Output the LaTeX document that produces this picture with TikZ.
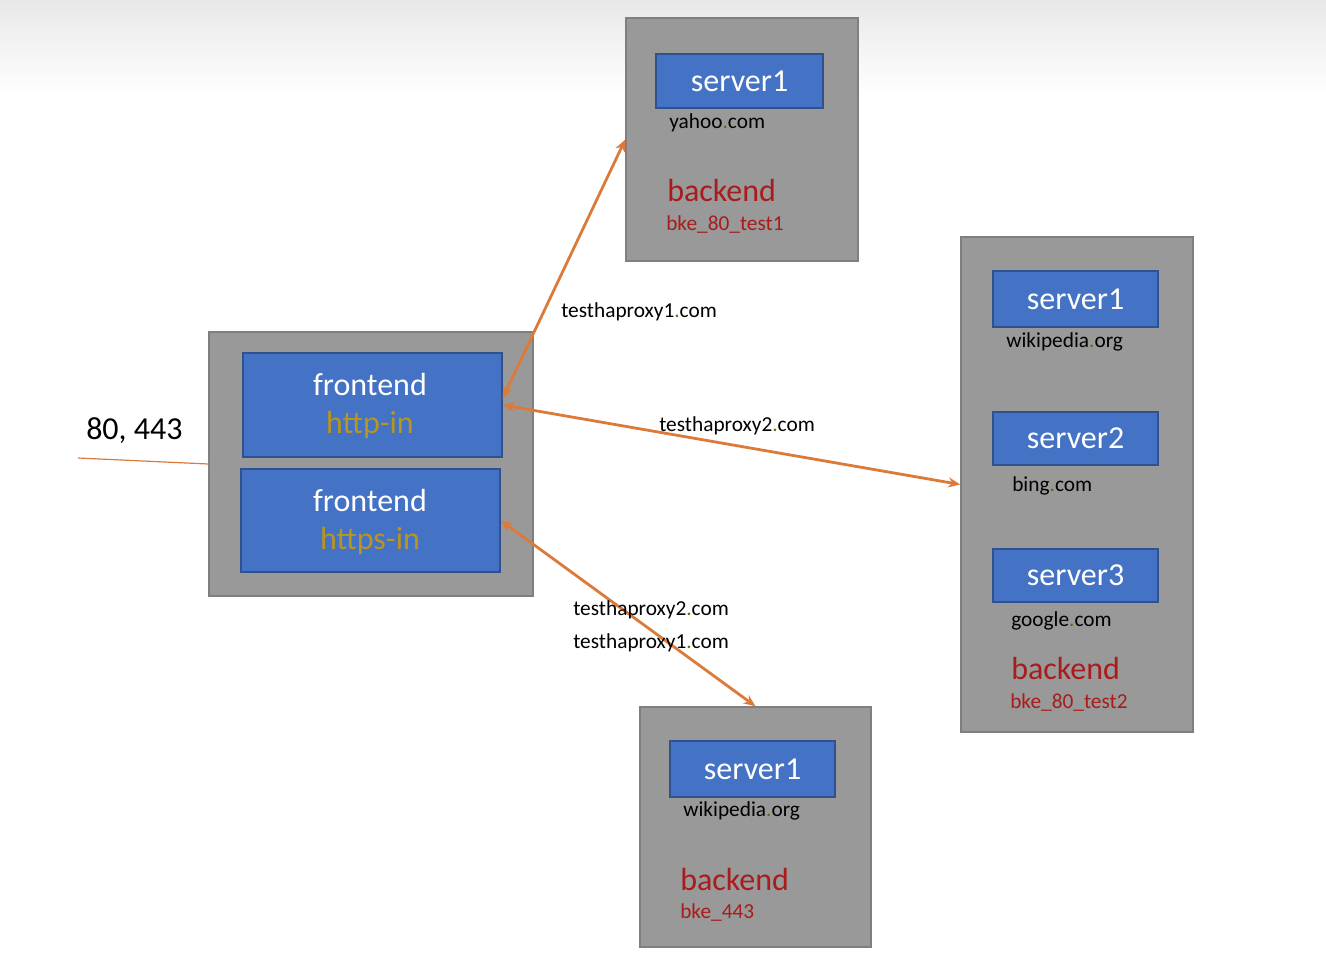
\documentclass[tikz,border=0pt]{standalone}
\usepackage{fontspec}
\setmainfont{Carlito}
\usetikzlibrary{fit,arrows.meta}
\definecolor{boxgray}{HTML}{999999}
\definecolor{boxedge}{HTML}{7F7F7F}
\definecolor{srvblue}{HTML}{4472C4}
\definecolor{srvedge}{HTML}{2F528F}
\definecolor{arrc}{HTML}{DC7A3A}
\definecolor{redtxt}{HTML}{A81C1C}
\definecolor{goldtxt}{HTML}{B8961E}
\definecolor{dotc}{HTML}{5E6B12}
\newcommand{\dt}{{\color{dotc}.}}
\begin{document}
\begin{tikzpicture}[x=0.75pt,y=-0.75pt,
  graybox/.style={draw=boxedge, fill=boxgray, line width=1.1pt, inner sep=0pt},
  srvbox/.style={draw=srvedge, fill=srvblue, line width=1pt, inner sep=0pt},
  srvtxt/.style={text=white, inner sep=0pt, font=\fontsize{24}{28}\selectfont},
  fetxt/.style={anchor=base, inner sep=0pt, font=\fontsize{24}{28}\selectfont},
  dom/.style={anchor=base west, inner sep=0pt, font=\fontsize{16}{19}\selectfont},
  bk/.style={anchor=base west, inner sep=0pt, text=redtxt, font=\fontsize{24}{28}\selectfont},
  bkid/.style={anchor=base west, inner sep=0pt, text=redtxt, font=\fontsize{16}{19}\selectfont},
  conn/.style={draw=arrc, line width=2.1pt, {Stealth[length=9pt,width=7.5pt]}-{Stealth[length=9pt,width=7.5pt]}},
  port/.style={draw=arrc, line width=0.9pt}
]
\useasboundingbox (0,0) rectangle (1326,964);
\shade[top color=black!9, bottom color=white] (0,0) rectangle (1326,95);

% top backend
\node[graybox, fit={(626,18) (858,261)}] (topbox) {};
\node[srvbox, fit={(656,54) (823,108)}] (ts1) {};
\node[srvtxt] at (ts1.center) {server1};
\node[dom] (tdom) at (669,128) {yahoo\dt com};
\node[bk] (tbk) at (667,201) {backend};
\node[bkid] (tbkid) at (666,230) {bke\_80\_test1};

% frontend
\node[graybox, fit={(209,332) (533,596)}] (fe) {};
\node[srvbox, fit={(243,353) (502,457)}] (httpin) {};
\node[srvbox, fit={(241,469) (500,572)}] (httpsin) {};
\node[fetxt, text=white] (fe1) at (370,395) {frontend};
\node[fetxt, text=goldtxt] (fe1b) at (370,433) {http-in};
\node[fetxt, text=white] (fe2) at (370,511) {frontend};
\node[fetxt, text=goldtxt] (fe2b) at (370,549) {https-in};

% right backend
\node[graybox, fit={(961,237) (1193,732)}] (rbox) {};
\node[srvbox, fit={(993,271) (1158,327)}] (rs1) {};
\node[srvtxt] at (rs1.center) {server1};
\node[dom] (rd1) at (1006,347) {wikipedia\dt org};
\node[srvbox, fit={(993,412) (1158,465)}] (rs2) {};
\node[srvtxt] at (rs2.center) {server2};
\node[dom] (rd2) at (1012,491) {bing\dt com};
\node[srvbox, fit={(993,549) (1158,602)}] (rs3) {};
\node[srvtxt] at (rs3.center) {server3};
\node[dom] (rd3) at (1011,626) {google\dt com};
\node[bk] (rbk) at (1011,679) {backend};
\node[bkid] (rbkid) at (1010,708) {bke\_80\_test2};

% bottom backend
\node[graybox, fit={(640,707) (871,947)}] (bbox) {};
\node[srvbox, fit={(670,741) (835,797)}] (bs1) {};
\node[srvtxt] at (bs1.center) {server1};
\node[dom] (bd1) at (683,816) {wikipedia\dt org};
\node[bk] (bbk) at (680,890) {backend};
\node[bkid] (bbkid) at (680,918) {bke\_443};

% port line
\node[anchor=base west, inner sep=0pt, font=\fontsize{24}{28}\selectfont] (portlbl) at (86,439) {80, 443};
\coordinate (portstart) at (78,458);
\draw[port] (portstart) -- (fe.west);

% connectors
\draw[conn] ([yshift=5pt]httpin.east) -- (topbox.west);
\draw[conn] (httpin.east) -- (rbox.west);
\draw[conn] (httpsin.east) -- (bbox.north);

% labels
\node[dom] (l1) at (561,317) {testhaproxy1\dt com};
\node[dom] (l2) at (659,431) {testhaproxy2\dt com};
\node[dom] (l3) at (573,615) {testhaproxy2\dt com};
\node[dom] (l4) at (573,648) {testhaproxy1\dt com};
\end{tikzpicture}
\end{document}
